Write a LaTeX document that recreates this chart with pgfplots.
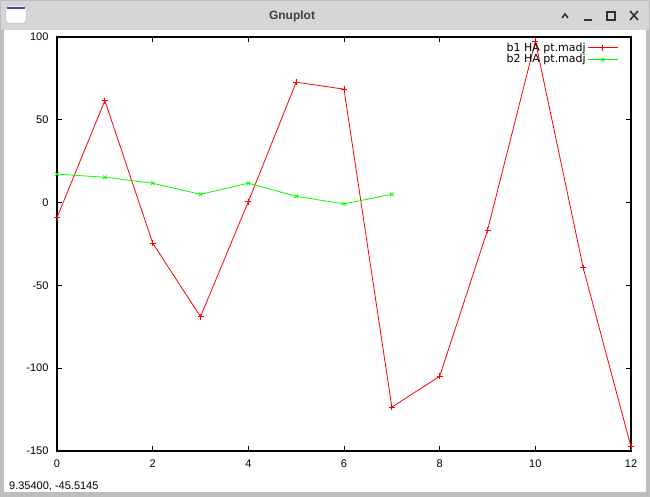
\documentclass[border=0pt]{standalone}
\usepackage{pgfplots}
\pgfplotsset{compat=1.18}
\usepackage{fontspec}
\setmainfont{Liberation Sans}
\newfontfamily\keyfont{DejaVu Sans}

\definecolor{winborder}{HTML}{BDBDBD}
\definecolor{titlebar}{HTML}{D6D6D6}
\definecolor{gpred}{HTML}{FF0000}
\definecolor{gpgreen}{HTML}{00FF00}

\begin{document}
\begin{tikzpicture}[x=1pt,y=1pt]
% window (pixel coords, y up: y = 497 - py)
\useasboundingbox (0,0) rectangle (650,497);
\fill[winborder] (0,0) rectangle (650,497);
\fill[titlebar] (1,467) rectangle (649,496);
\fill[white] (4,5) rectangle (646,467);
% title bar icon and buttons
\draw[gray!70, fill=white, rounded corners=1.5pt] (6,474) rectangle (26,491);
\fill[blue!45!gray] (7,488) rectangle (25,490);
\node[font=\bfseries\fontsize{12}{14}\selectfont, text=black!75] at (292,481) {Gnuplot};
\draw[black!80, line width=1.6pt] (562,479) -- (565,483) -- (568,479);
\draw[black!80, line width=1.6pt] (584,477) -- (592,477);
\draw[black!80, line width=1.6pt] (607,477) rectangle (615,485);
\draw[black!80, line width=1.6pt] (630,477) -- (638,486) (630,486) -- (638,477);
% status line
\node[anchor=west, font=\fontsize{11}{13}\selectfont, inner sep=0pt] at (9,11) {9.35400, -45.5145};

\begin{axis}[
    at={(57pt,46pt)}, anchor=south west,
    scale only axis, width=574pt, height=414pt,
    xmin=0, xmax=12, ymin=-150, ymax=100,
    xtick={0,2,...,12}, ytick={-150,-100,...,100},
    axis line style={line width=1.5pt},
    tick style={black, line width=1pt},
    major tick length=5pt, tick align=inside,
    font=\fontsize{11}{13}\selectfont,
    /pgf/number format/assume math mode=true,
    yticklabel style={xshift=-5pt},
    xticklabel style={yshift=-5pt},
    legend plot pos=right,
    legend cell align=right,
    legend image code/.code={\draw[mark repeat=2,mark phase=2] plot coordinates {(0pt,0pt) (15pt,0pt) (30pt,0pt)};},
    legend style={draw=none, fill=none, at={(0.983,0.995)}, anchor=north east,
        row sep=-1pt, nodes={inner sep=1.5pt}, font=\keyfont\fontsize{11}{13}\selectfont},
]
\addplot[gpred, line width=0.8pt, mark=+, mark size=3pt, mark options={line width=0.8pt}] coordinates {
(0,-9.1) (1,61.6) (2,-24.4) (3,-68.9) (4,0.6) (5,72.7) (6,68.5)
(7,-123.5) (8,-104.9) (9,-16.7) (10,97.5) (11,-39.3) (12,-147.5)};
\addlegendentry{b1 HA pt.madj}
\addplot[gpgreen, line width=0.8pt, mark=x, mark size=2.5pt, mark options={line width=0.8pt}] coordinates {
(0,17.2) (1,15.3) (2,11.7) (3,5.0) (4,11.7) (5,3.8) (6,-0.8) (7,5.0)};
\addlegendentry{b2 HA pt.madj}
\end{axis}
\end{tikzpicture}
\end{document}
